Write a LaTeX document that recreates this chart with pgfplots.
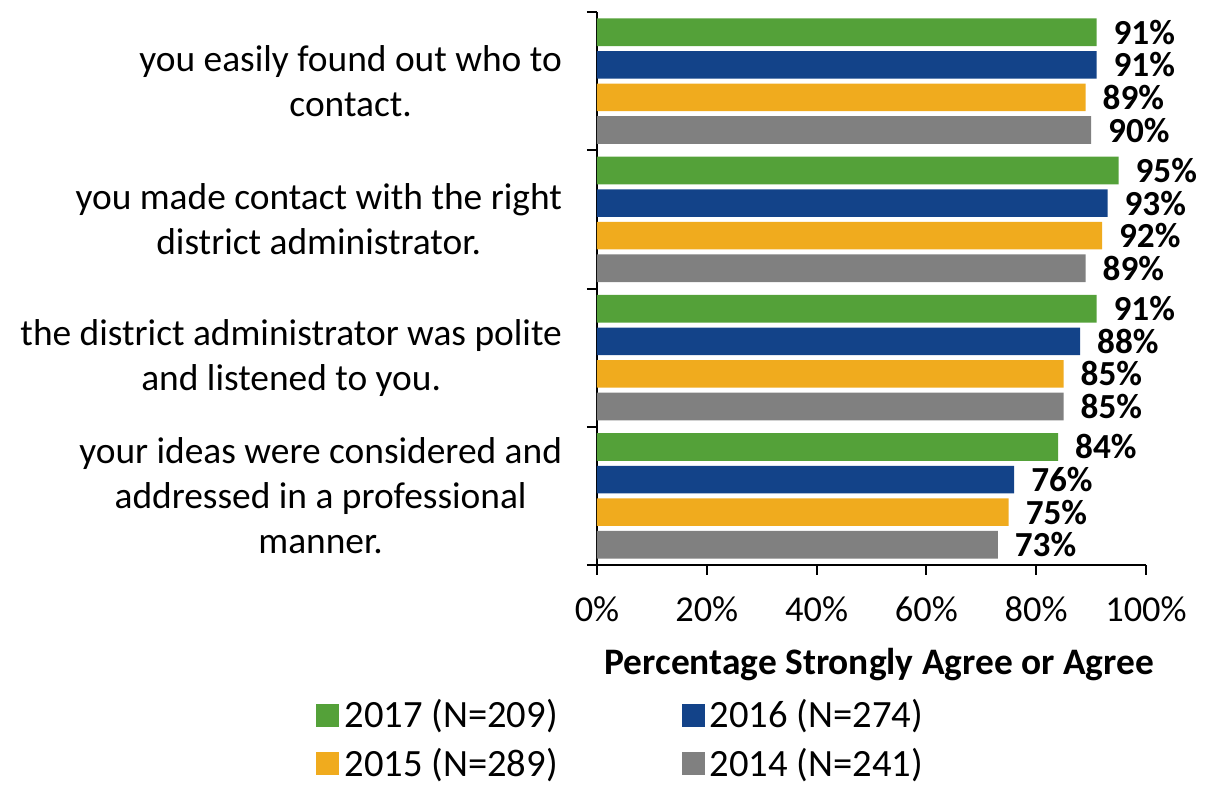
\documentclass[border=0pt]{standalone}
\usepackage{pgfplots}
\pgfplotsset{compat=1.18}
\usepackage{fontspec}
\setmainfont{Carlito}
\definecolor{c17}{RGB}{84,161,57}
\definecolor{c16}{RGB}{19,67,137}
\definecolor{c15}{RGB}{240,171,30}
\definecolor{c14}{RGB}{128,128,128}
\begin{document}
\begin{tikzpicture}[font=\fontsize{18.7}{22.5}\selectfont]
\useasboundingbox (-298.5pt,-111pt) rectangle (315.5pt,282.5pt);
\begin{axis}[
  at={(0,0)}, anchor=south west,
  scale only axis, width=274.5pt, height=276.5pt,
  xbar=2.5pt, bar width=13.8pt,
  xmin=0, xmax=100, ymin=-0.5, ymax=3.5,
  axis x line*=bottom, axis y line*=left,
  axis line style={line width=1pt, black, -},
  tick align=outside,
  tick style={black, line width=1pt},
  major tick length=5pt,
  xtick={0,20,...,100},
  xticklabel={\pgfmathprintnumber{\tick}\%},
  xticklabel style={font=\fontsize{18.2}{22}\selectfont, yshift=-7.5pt},
  /pgf/number format/assume math mode=true,
  ytick={-0.5,0.5,1.5,2.5,3.5},
  yticklabels={},
  extra y ticks={0,1,2,3},
  extra y tick labels={{your ideas were considered and\\addressed in a professional\\manner.},{the district administrator was polite\\and listened to you.},{you made contact with the right\\district administrator.},{you easily found out who to\\contact.}},
  extra y tick style={major tick length=0pt, yticklabel style={align=center, xshift=-14pt}},
  xlabel={\textbf{Percentage Strongly Agree or Agree}},
  xlabel style={at={(axis description cs:0.5,0)}, anchor=center, yshift=-50pt, xshift=4pt},
  point meta=x,
  nodes near coords={\pgfmathprintnumber{\pgfplotspointmeta}\%},
  every node near coord/.append style={font=\fontsize{17.6}{22}\selectfont\bfseries, anchor=west, xshift=5pt},
  reverse legend,
  legend columns=2,
  legend image code/.code={\fill[#1] (0pt,-5.75pt) rectangle (11.5pt,5.75pt);},
  legend style={at={(0.045,-0.232)}, anchor=north, draw=none, row sep=4.5pt, inner sep=1pt,
    font=\fontsize{19.3}{22}\selectfont,
    /tikz/every odd column/.style={column sep=0.5pt},
    /tikz/column 2/.style={column sep=60pt}},
]
\addplot[fill=c14, draw=none] coordinates {(90,3) (89,2) (85,1) (73,0)};
\addlegendentry{2014 (N=241)}
\addplot[fill=c15, draw=none] coordinates {(89,3) (92,2) (85,1) (75,0)};
\addlegendentry{2015 (N=289)}
\addplot[fill=c16, draw=none] coordinates {(91,3) (93,2) (88,1) (76,0)};
\addlegendentry{2016 (N=274)}
\addplot[fill=c17, draw=none] coordinates {(91,3) (95,2) (91,1) (84,0)};
\addlegendentry{2017 (N=209)}
\end{axis}
\end{tikzpicture}
\end{document}
